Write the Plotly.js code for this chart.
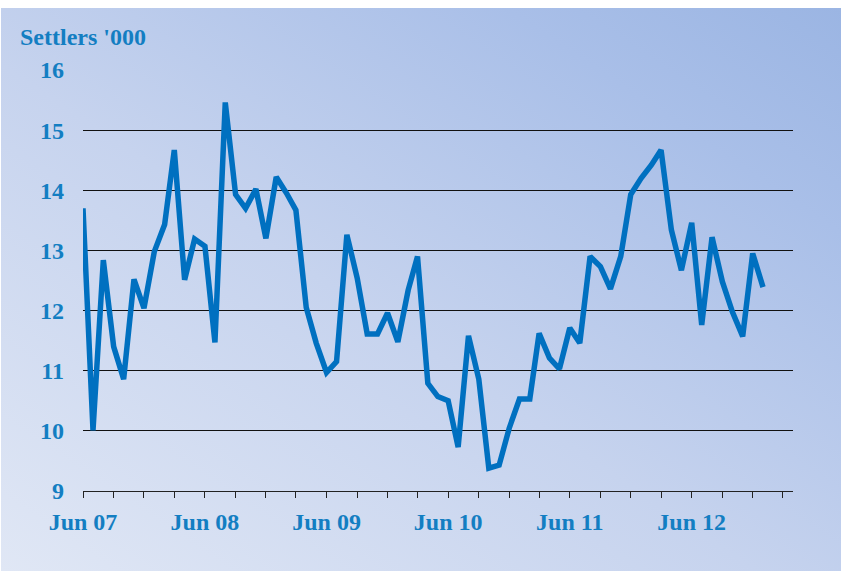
<!DOCTYPE html>
<html>
<head>
<meta charset="utf-8">
<script src="https://cdn.plot.ly/plotly-3.0.1.min.js"></script>
<style>
  html, body { margin: 0; padding: 0; background: #ffffff; }
  #wrap { position: relative; width: 841px; height: 571px; overflow: hidden; background: #ffffff; }
  #bg { position: absolute; left: 1px; top: 8px; width: 840px; height: 563px;
        background: linear-gradient(to top right, #e0e7f5 0%, #c6d3ee 45%, #a9bfe8 80%, #9bb5e3 100%); }
  #chart { position: absolute; left: 0; top: 0; width: 841px; height: 571px; }
</style>
</head>
<body>
<div id="wrap">
  <div id="bg"></div>
  <div id="chart"></div>
</div>
<script>
const months = [
  '2007-06-01','2007-07-01','2007-08-01','2007-09-01','2007-10-01','2007-11-01','2007-12-01',
  '2008-01-01','2008-02-01','2008-03-01','2008-04-01','2008-05-01','2008-06-01','2008-07-01','2008-08-01','2008-09-01','2008-10-01','2008-11-01','2008-12-01',
  '2009-01-01','2009-02-01','2009-03-01','2009-04-01','2009-05-01','2009-06-01','2009-07-01','2009-08-01','2009-09-01','2009-10-01','2009-11-01','2009-12-01',
  '2010-01-01','2010-02-01','2010-03-01','2010-04-01','2010-05-01','2010-06-01','2010-07-01','2010-08-01','2010-09-01','2010-10-01','2010-11-01','2010-12-01',
  '2011-01-01','2011-02-01','2011-03-01','2011-04-01','2011-05-01','2011-06-01','2011-07-01','2011-08-01','2011-09-01','2011-10-01','2011-11-01','2011-12-01',
  '2012-01-01','2012-02-01','2012-03-01','2012-04-01','2012-05-01','2012-06-01','2012-07-01','2012-08-01','2012-09-01','2012-10-01','2012-11-01','2012-12-01',
  '2013-01-01'
];
const settlers = [
  13.70, 10.01, 12.84, 11.40, 10.86, 12.52, 12.04,
  12.98, 13.43, 14.67, 12.51, 13.19, 13.07, 11.47, 15.46, 13.93, 13.70, 14.02, 13.20,
  14.22, 13.95, 13.67, 12.05, 11.46, 10.97, 11.15, 13.26, 12.54, 11.61, 11.61, 11.96,
  11.48, 12.34, 12.90, 10.79, 10.57, 10.50, 9.73, 11.58, 10.86, 9.38, 9.43, 10.04,
  10.53, 10.53, 11.62, 11.21, 11.03, 11.71, 11.46, 12.90, 12.73, 12.36, 12.90, 13.93,
  14.20, 14.42, 14.67, 13.34, 12.67, 13.46, 11.76, 13.22, 12.48, 11.98, 11.57, 12.95,
  12.39
];
const tickDates = [
  '2007-06-01','2007-09-01','2007-12-01','2008-03-01','2008-06-01','2008-09-01','2008-12-01','2009-03-01',
  '2009-06-01','2009-09-01','2009-12-01','2010-03-01','2010-06-01','2010-09-01','2010-12-01','2011-03-01',
  '2011-06-01','2011-09-01','2011-12-01','2012-03-01','2012-06-01','2012-09-01','2012-12-01','2013-03-01'
];
const tickLabels = [
  'Jun 07','','','','Jun 08','','','',
  'Jun 09','','','','Jun 10','','','',
  'Jun 11','','','','Jun 12','','',''
];
const yTicks = [9, 10, 11, 12, 13, 14, 15, 16];
const yTitle = "Settlers '000";

const textColor = '#137ec2';
const fontFam = '"Liberation Serif", "Times New Roman", serif';

Plotly.newPlot('chart', [{
  x: months,
  y: settlers,
  type: 'scatter',
  mode: 'lines',
  line: { color: '#0070c0', width: 5.5, shape: 'linear' },
  hoverinfo: 'x+y'
}], {
  width: 841,
  height: 571,
  margin: { l: 83, r: 48, t: 70, b: 80 },
  paper_bgcolor: 'rgba(0,0,0,0)',
  plot_bgcolor: 'rgba(0,0,0,0)',
  showlegend: false,
  xaxis: {
    type: 'date',
    range: ['2007-06-01', '2013-04-01'],
    tickmode: 'array',
    tickvals: tickDates,
    ticktext: tickLabels,
    ticks: 'outside',
    ticklen: 6,
    tickwidth: 1,
    tickcolor: '#222222',
    showline: true,
    linecolor: '#222222',
    linewidth: 1,
    showgrid: false,
    zeroline: false,
    tickfont: { family: fontFam, size: 24, color: textColor, weight: 'bold' },
    ticklabelstandoff: 3
  },
  yaxis: {
    range: [9, 16],
    tickmode: 'array',
    tickvals: yTicks,
    ticktext: yTicks.map(String),
    ticks: '',
    showline: false,
    showgrid: true,
    gridcolor: '#111111',
    gridwidth: 1,
    zeroline: false,
    tickfont: { family: fontFam, size: 24, color: textColor, weight: 'bold' },
    ticklabelstandoff: 18
  },
  annotations: [{
    text: yTitle,
    xref: 'paper', yref: 'paper',
    x: -0.0915, y: 1.0795,
    xanchor: 'left', yanchor: 'middle',
    showarrow: false,
    font: { family: fontFam, size: 24, color: textColor, weight: 'bold' }
  }]
}, { displayModeBar: false, staticPlot: true });
</script>
</body>
</html>
